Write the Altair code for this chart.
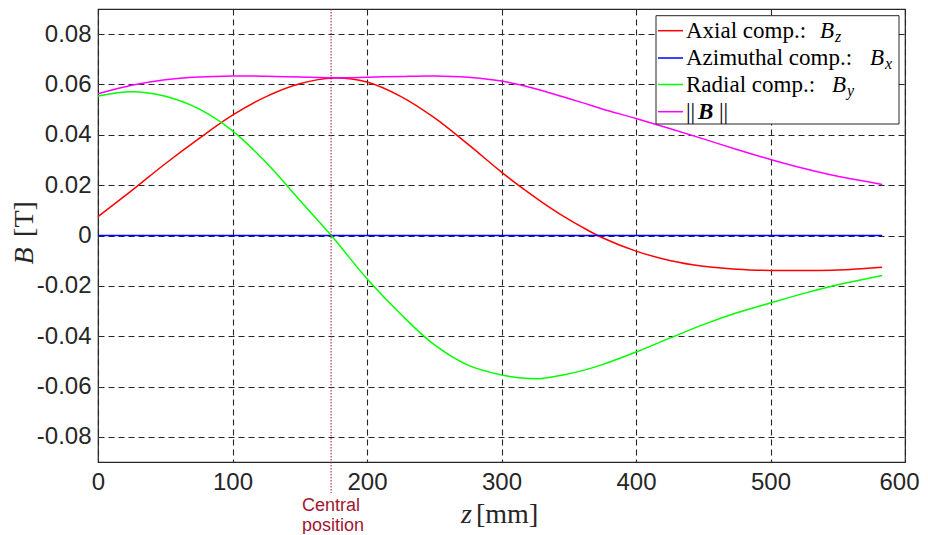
import altair as alt
import pandas as pd

# ---------------- data ----------------
z_mm = [0, 25, 50, 75, 100, 125, 150, 175, 200, 225, 250, 275, 300, 315, 330, 345,
        360, 375, 400, 425, 450, 475, 500, 525, 550, 583]
b_axial = [0.0075, 0.0178, 0.0285, 0.0385, 0.0478, 0.0552, 0.0603, 0.0626, 0.0610,
           0.0553, 0.0468, 0.0363, 0.0252, 0.0190, 0.0133, 0.0080, 0.0033, -0.0009,
           -0.0062, -0.0099, -0.0122, -0.0134, -0.0139, -0.0139, -0.0137, -0.0126]
b_azimuthal = [0.0] * len(z_mm)
b_radial = [0.0554, 0.0571, 0.0553, 0.0503, 0.0416, 0.0290, 0.0140, -0.0010, -0.0172,
            -0.0312, -0.0434, -0.0515, -0.0554, -0.0566, -0.0568, -0.0555, -0.0537,
            -0.0513, -0.0463, -0.0408, -0.0354, -0.0307, -0.0268, -0.0230, -0.0196, -0.0159]
b_norm = [0.0563, 0.0597, 0.0619, 0.0630, 0.0634, 0.0633, 0.0630, 0.0627, 0.0629,
          0.0632, 0.0634, 0.0629, 0.0614, 0.0597, 0.0576, 0.0552, 0.0528, 0.0503,
          0.0465, 0.0425, 0.0384, 0.0342, 0.0302, 0.0266, 0.0235, 0.0203]

series_names = ["Bz", "Bx", "By", "Bnorm"]
series_colors = ["#ff0000", "#0000ff", "#00ff00", "#ff00ff"]
legend_text = ["Axial comp.:", "Azimuthal comp.:", "Radial comp.:", ""]
legend_sub = ["z", "x", "y", ""]

x_ticks = [0, 100, 200, 300, 400, 500, 600]
y_ticks = [-0.08, -0.06, -0.04, -0.02, 0, 0.02, 0.04, 0.06, 0.08]
central_z = [173.3]
central_label = ["Central", "position"]

rows = []
for name, vals in zip(series_names, [b_axial, b_azimuthal, b_radial, b_norm]):
    for z, v in zip(z_mm, vals):
        rows.append({"z": z, "B": v, "series": name})
df = pd.DataFrame(rows)

W, H = 807, 453
INK = "#262626"
CRIMSON = "#a2142f"
SERIF = "Liberation Serif"
SANS = "Liberation Sans"

xs = alt.Scale(domain=[0, 600], nice=False, zero=False)
ys = alt.Scale(domain=[-0.09, 0.09], nice=False)

grid_kw = dict(grid=True, gridDash=[6, 4], gridColor=INK, gridWidth=1.1, gridOpacity=1,
               domain=False, ticks=False, labelFont=SANS, labelFontSize=24,
               labelColor=INK, labelFlush=False, labelOverlap=False, title=None)

lines = alt.Chart(df).mark_line(strokeWidth=1.5, interpolate="catmull-rom").encode(
    x=alt.X("z:Q", scale=xs, axis=alt.Axis(
        values=x_ticks, labelPadding=8,
        labelOffset={"condition": {"test": "datum.value == 600", "value": -6}, "value": 0},
        **grid_kw)),
    y=alt.Y("B:Q", scale=ys, axis=alt.Axis(
        values=y_ticks, labelPadding=7,
        labelExpr="datum.value == 0 ? '0' : replace(format(datum.value, '.2f'), '\u2212', '-')",
        **grid_kw)),
    color=alt.Color("series:N", scale=alt.Scale(domain=series_names, range=series_colors),
                    legend=None),
    order=alt.Order("z:Q"),
)

cdf = pd.DataFrame({"z": central_z})
crule = alt.Chart(cdf).mark_rule(color=CRIMSON, strokeDash=[1.5, 1.5], strokeWidth=1).encode(
    x=alt.X("z:Q", scale=xs), y=alt.value(0), y2=alt.value(484))
clabel = alt.Chart(cdf).mark_text(text=central_label, align="left", baseline="alphabetic",
                                  dx=-29, font=SANS, fontSize=18, color=CRIMSON,
                                  lineHeight=20).encode(
    x=alt.X("z:Q", scale=xs), y=alt.value(501.7))

layers = [lines, crule, clabel]

# axis titles (mixed italic / upright, LaTeX style)
layers.append(alt.Chart(cdf).mark_text(text="z", font=SERIF, fontStyle="italic", fontSize=28,
                                       align="left", baseline="alphabetic", color=INK).encode(
    x=alt.value(363), y=alt.value(514)))
layers.append(alt.Chart(cdf).mark_text(text="[mm]", font=SERIF, fontSize=28,
                                       align="left", baseline="alphabetic", color=INK).encode(
    x=alt.value(378), y=alt.value(514)))
layers.append(alt.Chart(cdf).mark_text(text="B", font=SERIF, fontStyle="italic", fontSize=28,
                                       angle=270, align="center", baseline="middle", color=INK).encode(
    x=alt.value(-73), y=alt.value(247)))
layers.append(alt.Chart(cdf).mark_text(text="[T]", font=SERIF, fontSize=28,
                                       angle=270, align="center", baseline="middle", color=INK).encode(
    x=alt.value(-73), y=alt.value(210)))

# legend
layers.append(alt.Chart(cdf).mark_rect(fill="white", stroke=INK, strokeWidth=1).encode(
    x=alt.value(558), x2=alt.value(801), y=alt.value(6.7), y2=alt.value(115)))
row_y = [21.7, 49.0, 75.5, 102.7]
b_x = [722, 772, 734, 600]
for i in range(4):
    layers.append(alt.Chart(cdf).mark_rule(color=series_colors[i], strokeWidth=1.5).encode(
        x=alt.value(560), x2=alt.value(585), y=alt.value(row_y[i])))
    if legend_text[i]:
        layers.append(alt.Chart(cdf).mark_text(text=legend_text[i], font=SERIF, fontSize=23,
                                               align="left", baseline="alphabetic", color="black").encode(
            x=alt.value(588), y=alt.value(row_y[i] + 7)))
        layers.append(alt.Chart(cdf).mark_text(text="B", font=SERIF, fontStyle="italic", fontSize=23,
                                               align="left", baseline="alphabetic", color="black").encode(
            x=alt.value(b_x[i]), y=alt.value(row_y[i] + 7)))
        layers.append(alt.Chart(cdf).mark_text(text=legend_sub[i], font=SERIF, fontStyle="italic",
                                               fontSize=16, align="left", baseline="alphabetic",
                                               color="black").encode(
            x=alt.value(b_x[i] + 15), y=alt.value(row_y[i] + 11)))
    else:
        layers.append(alt.Chart(cdf).mark_text(text="||", font=SERIF, fontSize=23,
                                               align="left", baseline="alphabetic", color="black").encode(
            x=alt.value(588), y=alt.value(row_y[i] + 7)))
        layers.append(alt.Chart(cdf).mark_text(text="B", font=SERIF, fontStyle="italic",
                                               fontWeight="bold", fontSize=23,
                                               align="left", baseline="alphabetic", color="black").encode(
            x=alt.value(b_x[i]), y=alt.value(row_y[i] + 7)))
        layers.append(alt.Chart(cdf).mark_text(text="||", font=SERIF, fontSize=23,
                                               align="left", baseline="alphabetic", color="black").encode(
            x=alt.value(b_x[i] + 21), y=alt.value(row_y[i] + 7)))

chart = alt.layer(*layers).properties(
    width=W, height=H,
    padding={"left": 90, "top": 1, "right": 15, "bottom": 72},
    autosize=alt.AutoSizeParams(type="none"),
    background="white",
).configure_view(stroke=INK, strokeWidth=1.2)

chart.save("out.html", embed_options={"renderer": "svg", "actions": False})
